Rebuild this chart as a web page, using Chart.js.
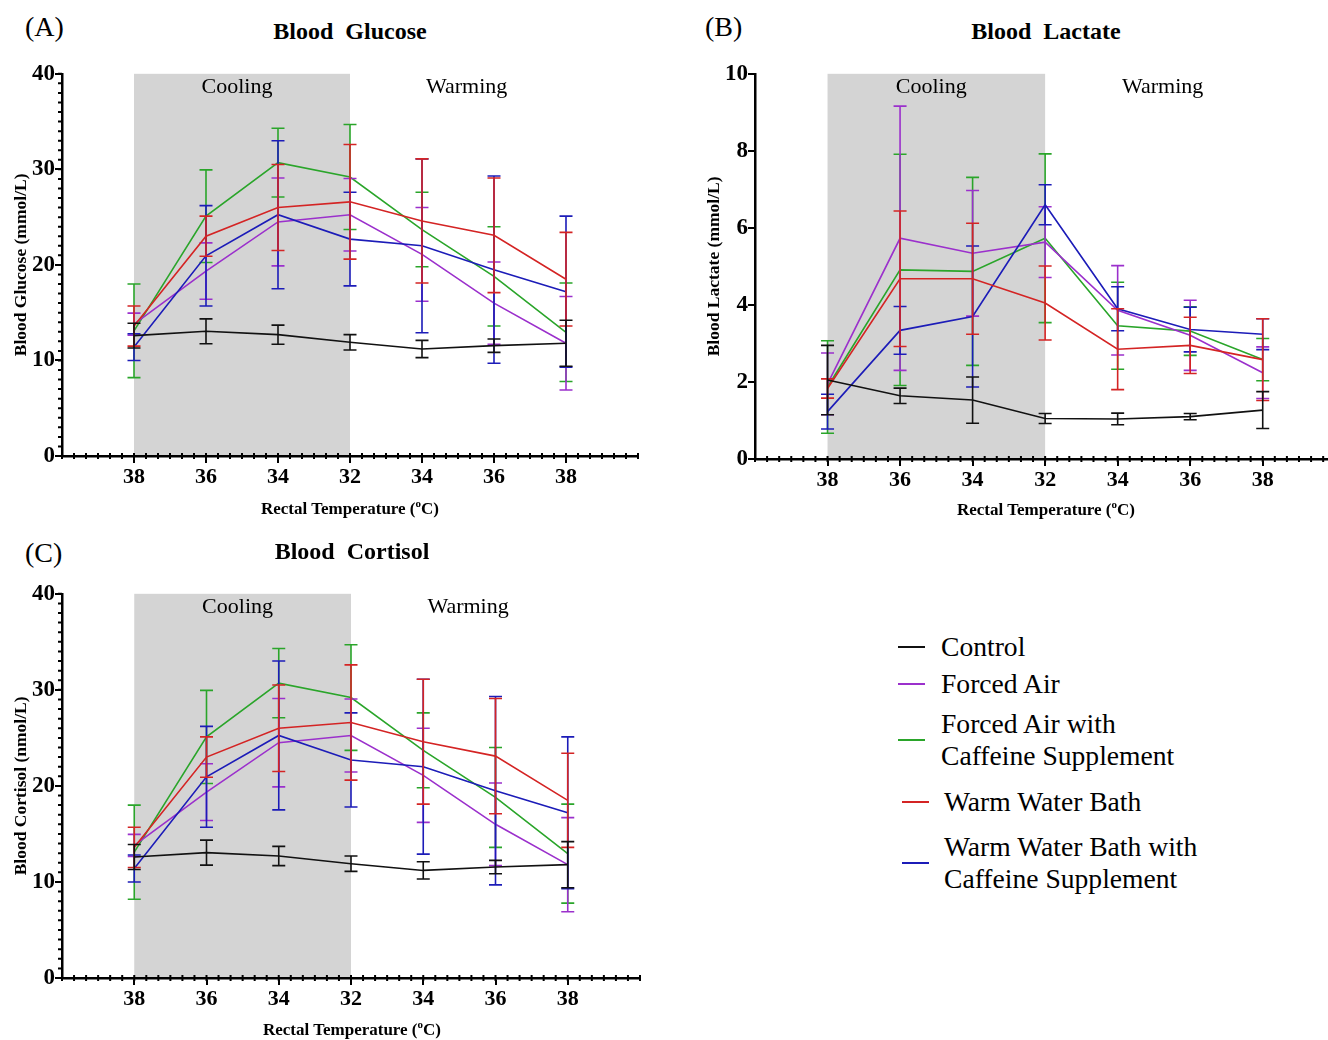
<!DOCTYPE html>
<html>
<head>
<meta charset="utf-8">
<script src="https://cdn.jsdelivr.net/npm/chart.js@4"></script>
<style>
  body { margin: 0; width: 1328px; height: 1040px; background: #fff; position: relative; overflow: hidden;
         font-family: "Liberation Serif", "Times New Roman", serif; color: #000; }
  canvas { position: absolute; }
  .txt { position: absolute; white-space: nowrap; line-height: 1; transform: translate(-50%, -50%); }
  .letter { position: absolute; font-size: 28px; line-height: 1; }
  .title { font-size: 24px; font-weight: bold; }
  .xtitle { font-size: 17px; font-weight: bold; }
  .xtitle sup { font-size: 11px; vertical-align: 7px; line-height: 0; }
  .seg { position: absolute; height: 2px; width: 27px; }
  .leg { position: absolute; font-size: 27.6px; line-height: 32px; white-space: nowrap; }
</style>
</head>
<body>

<div class="letter" style="left:25px; top:13px;">(A)</div>
<div class="txt title" style="left:350px; top:31px;">Blood&nbsp; Glucose</div>
<canvas id="chart-glucose" width="660" height="440" style="left:0; top:60px;"></canvas>
<div class="txt xtitle" style="left:350px; top:508px;">Rectal Temperature (<sup>o</sup>C)</div>

<div class="letter" style="left:705px; top:13px;">(B)</div>
<div class="txt title" style="left:1046px; top:31px;">Blood&nbsp; Lactate</div>
<canvas id="chart-lactate" width="638" height="443" style="left:690px; top:60px;"></canvas>
<div class="txt xtitle" style="left:1046px; top:509px;">Rectal Temperature (<sup>o</sup>C)</div>

<div class="letter" style="left:25px; top:539px;">(C)</div>
<div class="txt title" style="left:352px; top:551px;">Blood&nbsp; Cortisol</div>
<canvas id="chart-cortisol" width="660" height="442" style="left:0; top:580px;"></canvas>
<div class="txt xtitle" style="left:352px; top:1029px;">Rectal Temperature (<sup>o</sup>C)</div>

<div id="legend"></div>

<script>
const xLabels = ["38", "36", "34", "32", "34", "36", "38"];
const seriesNames = ["Control", "Forced Air", "Forced Air with\nCaffeine Supplement", "Warm Water Bath", "Warm Water Bath with\nCaffeine Supplement"];
const seriesColors = ["#111111", "#9b30cc", "#2aa52a", "#d42424", "#1c1cb8"];
// drawing order (0 = on top): control, warm bath, warm bath + caffeine, forced air, forced air + caffeine
const seriesOrder = [0, 3, 4, 1, 2];

// Blood glucose (mmol/L), mean and +/- error
const glucoseControl = [12.6, 13.05, 12.7, 11.9, 11.2, 11.55, 11.8];
const glucoseControlErr = [1.3, 1.3, 1.0, 0.8, 0.9, 0.7, 2.4];
const glucoseForcedAir = [13.8, 19.35, 24.5, 25.25, 21.1, 16.0, 11.8];
const glucoseForcedAirErr = [1.15, 2.95, 4.6, 3.8, 4.9, 4.3, 4.9];
const glucoseForcedAirCaf = [13.1, 25.1, 30.7, 29.2, 23.7, 18.8, 12.95];
const glucoseForcedAirCafErr = [4.9, 4.85, 3.6, 5.5, 3.9, 5.2, 5.15];
const glucoseWarmBath = [13.6, 23.0, 26.0, 26.6, 24.6, 23.1, 18.5];
const glucoseWarmBathErr = [2.1, 2.1, 4.5, 6.0, 6.5, 6.0, 4.9];
const glucoseWarmBathCaf = [11.4, 20.95, 25.25, 22.7, 22.0, 19.5, 17.2];
const glucoseWarmBathCafErr = [1.4, 5.25, 7.75, 4.9, 9.1, 9.8, 7.9];

// Blood lactate (mmol/L)
const lactateControl = [2.05, 1.64, 1.53, 1.05, 1.04, 1.1, 1.27];
const lactateControlErr = [0.9, 0.2, 0.6, 0.13, 0.15, 0.08, 0.48];
const lactateForcedAir = [1.95, 5.73, 5.34, 5.63, 3.86, 3.21, 2.24];
const lactateForcedAirErr = [0.8, 3.43, 1.63, 0.92, 1.16, 0.91, 0.67];
const lactateForcedAirCaf = [1.87, 4.91, 4.87, 5.73, 3.46, 3.32, 2.58];
const lactateForcedAirCafErr = [1.2, 3.0, 2.44, 2.19, 1.13, 0.63, 0.55];
const lactateWarmBath = [1.83, 4.68, 4.68, 4.05, 2.85, 2.95, 2.58];
const lactateWarmBathErr = [0.25, 1.76, 1.44, 0.96, 1.05, 0.73, 1.06];
const lactateWarmBathCaf = [1.23, 3.34, 3.7, 6.6, 3.9, 3.36, 3.24];
const lactateWarmBathCafErr = [0.45, 0.62, 1.83, 0.52, 0.57, 0.58, 0.4];

// Blood cortisol (nmol/L) - the panel shows the same values as glucose
const cortisolControl = [12.6, 13.05, 12.7, 11.9, 11.2, 11.55, 11.8];
const cortisolControlErr = [1.3, 1.3, 1.0, 0.8, 0.9, 0.7, 2.4];
const cortisolForcedAir = [13.8, 19.35, 24.5, 25.25, 21.1, 16.0, 11.8];
const cortisolForcedAirErr = [1.15, 2.95, 4.6, 3.8, 4.9, 4.3, 4.9];
const cortisolForcedAirCaf = [13.1, 25.1, 30.7, 29.2, 23.7, 18.8, 12.95];
const cortisolForcedAirCafErr = [4.9, 4.85, 3.6, 5.5, 3.9, 5.2, 5.15];
const cortisolWarmBath = [13.6, 23.0, 26.0, 26.6, 24.6, 23.1, 18.5];
const cortisolWarmBathErr = [2.1, 2.1, 4.5, 6.0, 6.5, 6.0, 4.9];
const cortisolWarmBathCaf = [11.4, 20.95, 25.25, 22.7, 22.0, 19.5, 17.2];
const cortisolWarmBathCafErr = [1.4, 5.25, 7.75, 4.9, 9.1, 9.8, 7.9];

const FONT = '"Liberation Serif", "Times New Roman", serif';

// shading, Cooling/Warming labels, minor ticks, error bars
const panelDecor = {
  id: "panelDecor",
  beforeDraw(chart) {
    const { ctx, chartArea, scales: { x } } = chart;
    const x0 = x.getPixelForValue(0), x1 = x.getPixelForValue(3);
    ctx.save();
    ctx.fillStyle = "#d4d4d4";
    ctx.fillRect(x0, chartArea.top, x1 - x0, chartArea.bottom - chartArea.top);
    ctx.fillStyle = "#000";
    ctx.font = "22px " + FONT;
    ctx.textAlign = "center";
    ctx.textBaseline = "middle";
    ctx.fillText("Cooling", x.getPixelForValue(1.43), chartArea.top + 13);
    ctx.fillText("Warming", x.getPixelForValue(4.62), chartArea.top + 13);
    ctx.restore();
  },
  // error bars drawn right after each dataset's line, so they stack the same way
  afterDatasetDraw(chart, args) {
    const { ctx, scales: { x, y } } = chart;
    const ds = chart.data.datasets[args.index];
    ctx.save();
    ctx.strokeStyle = ds.borderColor;
    ctx.lineWidth = 1.6;
    ds.data.forEach((p, i) => {
      const px = x.getPixelForValue(p.x);
      const top = y.getPixelForValue(p.y + ds.err[i]);
      const bot = y.getPixelForValue(p.y - ds.err[i]);
      ctx.beginPath();
      ctx.moveTo(px, top); ctx.lineTo(px, bot);
      ctx.moveTo(px - 6.5, top); ctx.lineTo(px + 6.5, top);
      ctx.moveTo(px - 6.5, bot); ctx.lineTo(px + 6.5, bot);
      ctx.stroke();
    });
    ctx.restore();
  },
  afterDraw(chart) {
    const { ctx, chartArea, scales: { x, y } } = chart;
    const minor = chart.options.plugins.panelDecor;
    ctx.save();
    ctx.strokeStyle = "#000";
    ctx.lineWidth = 2;
    ctx.beginPath();
    for (let v = x.min; v <= x.max + 1e-6; v += 1 / 6) {
      const px = x.getPixelForValue(v);
      ctx.moveTo(px, chartArea.bottom - 3);
      ctx.lineTo(px, chartArea.bottom + 3);
    }
    if (minor.yMinor) {
      for (let v = 0; v <= y.max + 1e-6; v += minor.yMinor) {
        const py = y.getPixelForValue(v);
        ctx.moveTo(chartArea.left - 4, py);
        ctx.lineTo(chartArea.left, py);
      }
    }
    ctx.stroke();
    ctx.restore();
  }
};

function makePanel(canvasId, cfg) {
  const datasets = seriesNames.map((name, k) => ({
    label: name,
    data: cfg.means[k].map((v, i) => ({ x: i, y: v })),
    err: cfg.errs[k],
    order: seriesOrder[k],
    borderColor: seriesColors[k],
    borderWidth: 1.6,
    pointRadius: 0,
    tension: 0,
    fill: false
  }));
  const axisGrid = { drawOnChartArea: false, drawTicks: true, tickLength: 7, color: "#000", lineWidth: 2 };
  const axisBorder = { color: "#000", width: 2.5 };

  return new Chart(document.getElementById(canvasId), {
    type: "line",
    data: { datasets },
    options: {
      responsive: false,
      animation: false,
      layout: { padding: { top: 13, right: cfg.padRight, left: 0, bottom: 0 } },
      plugins: {
        legend: { display: false },
        tooltip: { enabled: false },
        panelDecor: { yMinor: cfg.yMinor }
      },
      scales: {
        x: {
          type: "linear",
          min: -1,
          max: cfg.xMax,
          afterBuildTicks: s => { s.ticks = xLabels.map((_, i) => ({ value: i })); },
          afterFit: s => { s.height = 44; },
          grid: axisGrid,
          border: axisBorder,
          ticks: {
            callback: v => xLabels[v],
            autoSkip: false, maxRotation: 0, padding: 1,
            color: "#000",
            font: { family: FONT, size: 22, weight: "bold" }
          }
        },
        y: {
          min: 0,
          max: cfg.yMax,
          afterFit: s => { s.width = cfg.yWidth; },
          grid: axisGrid,
          border: axisBorder,
          ticks: {
            stepSize: cfg.yStep, padding: 0,
            color: "#000",
            font: { family: FONT, size: 23, weight: "bold" }
          },
          title: {
            display: true,
            text: cfg.yTitle,
            color: "#000",
            padding: { top: cfg.titlePad, bottom: 0 },
            font: { family: FONT, size: 17.5, weight: "bold" }
          }
        }
      }
    },
    plugins: [panelDecor]
  });
}

makePanel("chart-glucose", {
  means: [glucoseControl, glucoseForcedAir, glucoseForcedAirCaf, glucoseWarmBath, glucoseWarmBathCaf],
  errs: [glucoseControlErr, glucoseForcedAirErr, glucoseForcedAirCafErr, glucoseWarmBathErr, glucoseWarmBathCafErr],
  yMax: 40, yStep: 10, yMinor: 1, xMax: 7, yWidth: 62, padRight: 22, titlePad: 11,
  yTitle: "Blood Glucose (mmol/L)"
});

makePanel("chart-lactate", {
  means: [lactateControl, lactateForcedAir, lactateForcedAirCaf, lactateWarmBath, lactateWarmBathCaf],
  errs: [lactateControlErr, lactateForcedAirErr, lactateForcedAirCafErr, lactateWarmBathErr, lactateWarmBathCafErr],
  yMax: 10, yStep: 2, yMinor: 0, xMax: 6.9, yWidth: 65, padRight: 0, titlePad: 14,
  yTitle: "Blood Lactate (mmol/L)"
});

makePanel("chart-cortisol", {
  means: [cortisolControl, cortisolForcedAir, cortisolForcedAirCaf, cortisolWarmBath, cortisolWarmBathCaf],
  errs: [cortisolControlErr, cortisolForcedAirErr, cortisolForcedAirCafErr, cortisolWarmBathErr, cortisolWarmBathCafErr],
  yMax: 40, yStep: 10, yMinor: 1, xMax: 7, yWidth: 62, padRight: 20, titlePad: 11,
  yTitle: "Blood Cortisol (nmol/L)"
});

// legend, built from the series names and colours
const legendTops = [631, 668, 708, 786, 831];
const legendSegY = [647, 684, 740, 802, 863];
const legend = document.getElementById("legend");
seriesNames.forEach((name, k) => {
  const seg = document.createElement("div");
  seg.className = "seg";
  seg.style.left = (k >= 3 ? 902 : 898) + "px";
  seg.style.top = (legendSegY[k] - 1) + "px";
  seg.style.background = seriesColors[k];
  legend.appendChild(seg);
  const t = document.createElement("div");
  t.className = "leg";
  t.style.left = (k >= 3 ? 944 : 941) + "px";
  t.style.top = legendTops[k] + "px";
  t.innerHTML = name.replace("\n", "<br>");
  legend.appendChild(t);
});
</script>
</body>
</html>
